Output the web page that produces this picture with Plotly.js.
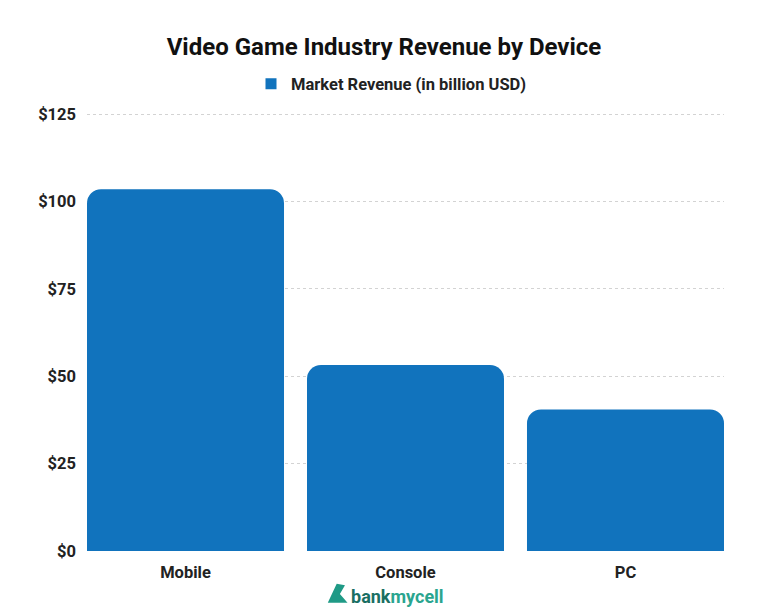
<!DOCTYPE html>
<html>
<head>
<meta charset="utf-8">
<script src="https://cdn.plot.ly/plotly-3.0.1.min.js"></script>
<style>html,body{margin:0;padding:0;background:#fff;}#chart{width:768px;height:615px;}</style>
</head>
<body>
<div id="chart"></div>
<script>
const categories = ["Mobile", "Console", "PC"];
const revenue = [103.5, 53.2, 40.5];
const seriesName = "Market Revenue (in billion USD)";
const yTickVals = [0, 25, 50, 75, 100, 125];
const yTickText = ["$0", "$25", "$50", "$75", "$100", "$125"];

const barColor = "#1173bd";
const font = "Roboto, 'Open Sans', Arial, sans-serif";
const tickFont = {size: 16.5, family: font, color: "#222", weight: "bold"};

Plotly.newPlot("chart", [{
  type: "bar",
  x: categories,
  y: revenue,
  name: seriesName,
  marker: {color: barColor},
  showlegend: false,
  hoverinfo: "none"
}, {
  type: "scatter",
  mode: "markers",
  x: [null],
  y: [null],
  name: seriesName,
  marker: {color: barColor, symbol: "square", size: 11},
  showlegend: true,
  hoverinfo: "none"
}], {
  width: 768, height: 615,
  margin: {l: 87, r: 44, t: 113, b: 64, pad: 0},
  paper_bgcolor: "#fff", plot_bgcolor: "#fff",
  font: {family: font, color: "#222", size: 15},
  title: {text: "<b>Video Game Industry Revenue by Device</b>", x: 0.5, xanchor: "center", y: 1 - 47/615, yanchor: "middle", yref: "container", font: {size: 24, family: font, color: "#111"}},
  bargap: 0.1045,
  barcornerradius: 14,
  showlegend: true,
  legend: {orientation: "h", x: 0.5 - 14/637, xanchor: "center", y: 1 + (113-84)/438, yanchor: "middle", font: {size: 16.5, family: font, color: "#222", weight: "bold"}, itemwidth: 30},
  xaxis: {type: "category", range: [-0.5 + 0.05225, 2.5 - 0.05225], showgrid: false, zeroline: false, showline: false, ticks: "", tickfont: tickFont, ticklabelstandoff: 9, fixedrange: true},
  yaxis: {range: [0, 125.29], tickvals: yTickVals, ticktext: yTickText, showgrid: true, gridcolor: "#d3d3d3", gridwidth: 1, griddash: "dot", zeroline: false, showline: false, ticks: "", tickfont: tickFont, ticklabelstandoff: 10, fixedrange: true},
  shapes: [{
    type: "path", xref: "paper", yref: "paper",
    path: "M 0.378 -0.118 L 0.392 -0.075 L 0.405 -0.078 L 0.397 -0.098 L 0.409 -0.118 Z",
    fillcolor: "#1f9a86", line: {width: 0}
  }],
  annotations: [{
    text: "<b>bank</b><b><span style='color:#2aa58f'>mycell</span></b>", xref: "paper", yref: "paper", x: (397-87)/637, y: -(596-551)/438, xanchor: "center", yanchor: "middle", showarrow: false,
    font: {size: 18, family: font, color: "#1a6f63"}
  }]
}, {displayModeBar: false, staticPlot: true});
</script>
</body>
</html>
